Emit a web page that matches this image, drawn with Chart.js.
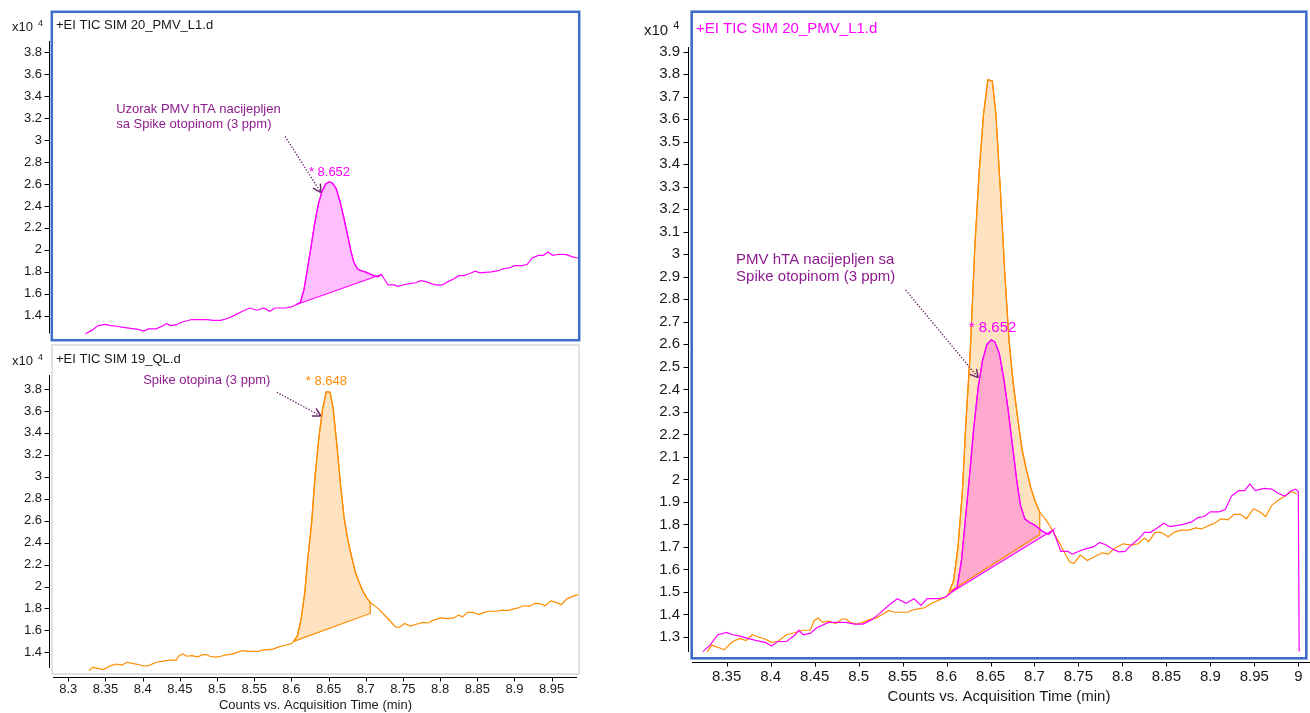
<!DOCTYPE html>
<html>
<head>
<meta charset="utf-8">
<title>TIC SIM 20_PMV_L1 / 19_QL</title>
<script src="https://cdn.jsdelivr.net/npm/chart.js@4.4.1/dist/chart.umd.min.js"></script>
<style>
  html, body { margin: 0; padding: 0; background: #fff; overflow: hidden; }
  canvas { position: absolute; }
  #topLeft { left: 0; top: 0; width: 590px; height: 343px; }
  #bottomLeft { left: 0; top: 343px; width: 590px; height: 370px; }
  #right { left: 640px; top: 0; width: 670px; height: 713px; }
</style>
</head>
<body>
<canvas id="topLeft" width="590" height="343"></canvas>
<canvas id="bottomLeft" width="590" height="370"></canvas>
<canvas id="right" width="670" height="713"></canvas>
<script>
'use strict';

const FONT = '"Liberation Sans", Arial, sans-serif';
const MAGENTA = '#ff00ff';
const ORANGE = '#ff8c00';
const PURPLE = '#8e1c8e';
const TEXT = '#1a1a1a';
const BLUE = '#3c6ec8';

// ---------- data (counts x10^4 vs. min) ----------
// 20_PMV_L1.d : PMV hTA sample spiked with 3 ppm
const pmvTime = [
  8.323, 8.331, 8.340, 8.350, 8.357, 8.365, 8.374, 8.384, 8.394, 8.401,
  8.408, 8.418, 8.428, 8.432, 8.437, 8.445, 8.452, 8.466, 8.476, 8.486,
  8.495, 8.505, 8.515, 8.524, 8.534, 8.544, 8.554, 8.563, 8.571, 8.578,
  8.592, 8.600, 8.606, 8.612, 8.617, 8.621, 8.626, 8.631, 8.636, 8.641,
  8.646, 8.651, 8.655, 8.660, 8.665, 8.670, 8.675, 8.680, 8.684, 8.689,
  8.694, 8.701, 8.709, 8.716, 8.721, 8.730, 8.738, 8.743, 8.750, 8.757,
  8.767, 8.774, 8.781, 8.789, 8.796, 8.803, 8.810, 8.818, 8.825, 8.832,
  8.840, 8.847, 8.854, 8.861, 8.869, 8.878, 8.886, 8.893, 8.900, 8.910,
  8.917, 8.924, 8.932, 8.939, 8.945, 8.951, 8.961, 8.970, 8.978, 8.985,
  8.992, 8.997, 9.000, 9.001,
];
const pmvCounts = [
  1.235, 1.264, 1.31, 1.32, 1.31, 1.304, 1.294, 1.284, 1.276, 1.26,
  1.28, 1.28, 1.31, 1.33, 1.31, 1.316, 1.34, 1.365, 1.365, 1.365,
  1.357, 1.357, 1.377, 1.405, 1.44, 1.47, 1.45, 1.47, 1.44, 1.47,
  1.47, 1.48, 1.50, 1.52, 1.64, 1.805, 2.01, 2.23, 2.41, 2.53,
  2.60, 2.62, 2.61, 2.56, 2.45, 2.31, 2.15, 1.99, 1.886, 1.825,
  1.81, 1.795, 1.77, 1.755, 1.775, 1.68, 1.68, 1.668, 1.68, 1.69,
  1.70, 1.72, 1.71, 1.69, 1.678, 1.68, 1.708, 1.734, 1.765, 1.765,
  1.785, 1.805, 1.79, 1.795, 1.80, 1.81, 1.83, 1.835, 1.856, 1.856,
  1.866, 1.926, 1.95, 1.95, 1.98, 1.95, 1.96, 1.957, 1.936, 1.926,
  1.95, 1.957, 1.946, 1.235,
];

// 19_QL.d : spike solution (3 ppm)
const qlTime = [
  8.328, 8.333, 8.343, 8.347, 8.357, 8.365, 8.372, 8.379, 8.386, 8.394,
  8.401, 8.408, 8.418, 8.428, 8.437, 8.445, 8.449, 8.454, 8.459, 8.466,
  8.474, 8.481, 8.486, 8.490, 8.498, 8.505, 8.512, 8.520, 8.527, 8.534,
  8.541, 8.549, 8.556, 8.561, 8.568, 8.575, 8.583, 8.592, 8.600, 8.603,
  8.608, 8.613, 8.618, 8.622, 8.627, 8.632, 8.637, 8.642, 8.647, 8.652,
  8.656, 8.661, 8.666, 8.671, 8.676, 8.681, 8.686, 8.691, 8.696, 8.701,
  8.706, 8.714, 8.718, 8.726, 8.733, 8.740, 8.745, 8.752, 8.760, 8.767,
  8.777, 8.784, 8.791, 8.801, 8.810, 8.818, 8.825, 8.830, 8.837, 8.844,
  8.852, 8.859, 8.866, 8.876, 8.883, 8.890, 8.898, 8.905, 8.912, 8.920,
  8.927, 8.934, 8.941, 8.949, 8.956, 8.963, 8.970, 8.978, 8.985, 8.992,
  8.998,
];
const qlCounts = [
  1.235, 1.264, 1.25, 1.243, 1.28, 1.294, 1.284, 1.31, 1.30, 1.29,
  1.276, 1.28, 1.31, 1.32, 1.33, 1.33, 1.37, 1.385, 1.365, 1.37,
  1.36, 1.38, 1.38, 1.365, 1.357, 1.365, 1.377, 1.385, 1.40, 1.417,
  1.41, 1.41, 1.41, 1.42, 1.425, 1.43, 1.45, 1.465, 1.48, 1.50,
  1.55, 1.70, 1.946, 2.25, 2.57, 3.02, 3.36, 3.62, 3.775, 3.77,
  3.63, 3.30, 2.93, 2.62, 2.42, 2.27, 2.13, 2.04, 1.96, 1.90,
  1.855, 1.815, 1.79, 1.734, 1.684, 1.633, 1.627, 1.664, 1.64, 1.654,
  1.674, 1.668, 1.694, 1.714, 1.708, 1.714, 1.74, 1.724, 1.765, 1.765,
  1.745, 1.765, 1.775, 1.775, 1.785, 1.78, 1.795, 1.805, 1.825, 1.82,
  1.845, 1.845, 1.825, 1.87, 1.856, 1.835, 1.886, 1.91, 1.926, 1.946,
  1.936,
];

// integrated peaks: [start time, end time, baseline at start, baseline at end]
const pmvPeak = [8.606, 8.721, 1.50, 1.775];
const qlPeak = [8.603, 8.706, 1.50, 1.755];

// axis ticks
const leftTimeTicks = [8.3, 8.35, 8.4, 8.45, 8.5, 8.55, 8.6, 8.65, 8.7, 8.75, 8.8, 8.85, 8.9, 8.95];
const rightTimeTicks = [8.35, 8.4, 8.45, 8.5, 8.55, 8.6, 8.65, 8.7, 8.75, 8.8, 8.85, 8.9, 8.95, 9];
const leftCountTicks = [1.4, 1.6, 1.8, 2, 2.2, 2.4, 2.6, 2.8, 3, 3.2, 3.4, 3.6, 3.8];
const rightCountTicks = [1.3, 1.4, 1.5, 1.6, 1.7, 1.8, 1.9, 2, 2.1, 2.2, 2.3, 2.4, 2.5, 2.6,
  2.7, 2.8, 2.9, 3, 3.1, 3.2, 3.3, 3.4, 3.5, 3.6, 3.7, 3.8, 3.9];

// ---------- helpers ----------
function series(times, counts) {
  return times.map((t, i) => ({ x: t, y: counts[i] }));
}
// closed outline: the trace between start and end, then back along the baseline
function peakShape(times, counts, peak) {
  const [t0, t1, b0, b1] = peak;
  const pts = series(times, counts).filter((p) => p.x >= t0 && p.x <= t1);
  pts.push({ x: t1, y: b1 }, { x: t0, y: b0 });
  return pts;
}
function fmt(v) { return String(Number(v.toFixed(2))); }
function noPad(s) { s.paddingLeft = s.paddingRight = s.paddingTop = s.paddingBottom = 0; }

function traceSet(data, color) {
  return { data, borderColor: color, borderWidth: 1.2, pointRadius: 0, fill: false, tension: 0 };
}
function peakSet(data, color, fillColor) {
  return { data, borderColor: color, borderWidth: 1.2, pointRadius: 0, fill: 'shape', backgroundColor: fillColor, tension: 0 };
}

// ---------- frame, axis lines, headers and notes ----------
const chromFrame = {
  id: 'chromFrame',
  afterDraw(chart, args, o) {
    const { ctx, chartArea: a } = chart;
    const x = chart.scales.x;
    const y = chart.scales.y;
    ctx.save();

    const f = o.frameInset;
    ctx.strokeStyle = o.frameColor;
    ctx.lineWidth = o.frameWidth;
    ctx.strokeRect(a.left - f, a.top - f, a.right - a.left + 2 * f, a.bottom - a.top + 2 * f);

    ctx.strokeStyle = '#000';
    ctx.lineWidth = 1;
    ctx.beginPath();
    const ax = o.yAxis[0];
    ctx.moveTo(ax, o.yAxis[1]);
    ctx.lineTo(ax, o.yAxis[2]);
    for (const t of y.ticks) {
      const py = Math.round(y.getPixelForValue(t.value)) + 0.5;
      ctx.moveTo(ax - 5, py);
      ctx.lineTo(ax, py);
    }
    if (o.xAxis) {
      const ay = o.xAxis[0];
      ctx.moveTo(o.xAxis[1], ay);
      ctx.lineTo(o.xAxis[2], ay);
      for (const t of x.ticks) {
        const px = Math.round(x.getPixelForValue(t.value)) + 0.5;
        ctx.moveTo(px, ay);
        ctx.lineTo(px, ay + 4);
      }
    }
    ctx.stroke();

    ctx.textBaseline = 'middle';
    ctx.textAlign = 'left';
    // "x10 4" exponent
    const e = o.exp;
    ctx.fillStyle = TEXT;
    ctx.font = `${e.size}px ${FONT}`;
    ctx.fillText('x10', e.x, e.y);
    const w = ctx.measureText('x10').width;
    ctx.font = `${Math.round(e.size * 0.72)}px ${FONT}`;
    ctx.fillText('4', e.x + w + 5, e.y - e.size * 0.32);
    // trace name
    const h = o.title;
    ctx.fillStyle = h.color;
    ctx.font = `${h.size}px ${FONT}`;
    ctx.fillText(h.text, h.x, h.y);

    // notes placed in data coordinates
    for (const n of o.notes) {
      ctx.fillStyle = n.color;
      ctx.font = `${n.size}px ${FONT}`;
      const px = x.getPixelForValue(n.at[0]);
      const py = y.getPixelForValue(n.at[1]);
      n.lines.forEach((line, i) => ctx.fillText(line, px, py + i * (n.step || 0)));
    }
    for (const ar of o.arrows) {
      const x0 = x.getPixelForValue(ar.from[0]);
      const y0 = y.getPixelForValue(ar.from[1]);
      const x1 = x.getPixelForValue(ar.to[0]);
      const y1 = y.getPixelForValue(ar.to[1]);
      ctx.strokeStyle = '#6a276a';
      ctx.lineWidth = 1.4;
      ctx.setLineDash([1.3, 1.7]);
      ctx.beginPath();
      ctx.moveTo(x0, y0);
      ctx.lineTo(x1, y1);
      ctx.stroke();
      ctx.setLineDash([]);
      const ang = Math.atan2(y1 - y0, x1 - x0);
      ctx.beginPath();
      for (const d of [-0.5, 0.5]) {
        ctx.moveTo(x1, y1);
        ctx.lineTo(x1 - 9 * Math.cos(ang + d), y1 - 9 * Math.sin(ang + d));
      }
      ctx.stroke();
    }
    ctx.restore();
  },
};

function makeChart(id, p) {
  return new Chart(document.getElementById(id), {
    type: 'line',
    data: { datasets: p.datasets },
    plugins: [chromFrame],
    options: {
      responsive: false,
      animation: false,
      devicePixelRatio: 1,
      layout: { padding: p.padding },
      scales: {
        x: {
          type: 'linear',
          display: p.showX,
          min: p.xRange[0],
          max: p.xRange[1],
          afterBuildTicks: (s) => { s.ticks = p.xTicks.map((v) => ({ value: v })); },
          afterFit: (s) => { s.height = p.xHeight; noPad(s); },
          grid: { display: false, drawTicks: false },
          border: { display: false },
          ticks: {
            autoSkip: false, maxRotation: 0, minRotation: 0, padding: p.xTickPad,
            color: TEXT, font: { family: FONT, size: p.fontSize }, callback: (v) => fmt(v),
          },
          title: {
            display: true, text: 'Counts vs. Acquisition Time (min)', padding: 0,
            color: TEXT, font: { family: FONT, size: p.fontSize },
          },
        },
        y: {
          type: 'linear',
          min: p.yRange[0],
          max: p.yRange[1],
          afterBuildTicks: (s) => { s.ticks = p.yTicks.map((v) => ({ value: v })); },
          afterFit: (s) => { s.width = 53; noPad(s); },
          grid: { display: false, drawTicks: false },
          border: { display: false },
          ticks: {
            autoSkip: false, padding: p.yTickPad,
            color: TEXT, font: { family: FONT, size: p.fontSize }, callback: (v) => fmt(v),
          },
        },
      },
      plugins: {
        legend: { display: false },
        tooltip: { enabled: false },
        filler: { drawTime: 'beforeDatasetsDraw' },
        chromFrame: p.frame,
      },
    },
  });
}

const pmvData = series(pmvTime, pmvCounts);
const qlData = series(qlTime, qlCounts);
const pmvFill = 'rgba(255, 0, 255, 0.25)';
const qlFill = 'rgba(255, 140, 0, 0.25)';

// ---------- top left: 20_PMV_L1.d ----------
makeChart('topLeft', {
  datasets: [traceSet(pmvData, MAGENTA), peakSet(peakShape(pmvTime, pmvCounts, pmvPeak), MAGENTA, pmvFill)],
  padding: { left: 0, right: 12, top: 13, bottom: 4 },
  showX: false, xHeight: 0, xTickPad: 9,
  xRange: [8.2794, 8.9854], yRange: [1.1877, 4.158],
  xTicks: leftTimeTicks, yTicks: leftCountTicks,
  fontSize: 13, yTickPad: 11,
  frame: {
    frameColor: BLUE, frameWidth: 2.5, frameInset: 1.2,
    yAxis: [49.5, 41, 333.5],
    exp: { x: 12, y: 27.3, size: 13 },
    title: { text: '+EI TIC SIM 20_PMV_L1.d', x: 56, y: 25.7, size: 13, color: TEXT },
    notes: [
      { lines: ['Uzorak PMV hTA nacijepljen', 'sa Spike otopinom (3 ppm)'], at: [8.3643, 3.277], step: 15, color: PURPLE, size: 13 },
      { lines: ['* 8.652'], at: [8.6235, 2.705], color: MAGENTA, size: 13 },
    ],
    arrows: [{ from: [8.5915, 3.033], to: [8.6397, 2.522] }],
  },
});

// ---------- bottom left: 19_QL.d ----------
makeChart('bottomLeft', {
  datasets: [traceSet(qlData, ORANGE), peakSet(peakShape(qlTime, qlCounts, qlPeak), ORANGE, qlFill)],
  padding: { left: 0, right: 12, top: 3, bottom: 0 },
  showX: true, xHeight: 40, xTickPad: 9,
  xRange: [8.2794, 8.9854], yRange: [1.2123, 4.1918],
  xTicks: leftTimeTicks, yTicks: leftCountTicks,
  fontSize: 13, yTickPad: 11,
  frame: {
    frameColor: '#e1e1e1', frameWidth: 2, frameInset: 1,
    yAxis: [49.5, 32, 325],
    xAxis: [334.5, 53, 577],
    exp: { x: 12, y: 18.7, size: 13 },
    title: { text: '+EI TIC SIM 19_QL.d', x: 56, y: 16.3, size: 13, color: TEXT },
    notes: [
      { lines: ['Spike otopina (3 ppm)'], at: [8.4006, 3.876], color: PURPLE, size: 13 },
      { lines: ['* 8.648'], at: [8.6194, 3.873], color: ORANGE, size: 13 },
    ],
    arrows: [{ from: [8.5804, 3.77], to: [8.6397, 3.554] }],
  },
});

// ---------- right: overlay of both traces ----------
makeChart('right', {
  datasets: [
    traceSet(pmvData, MAGENTA),
    traceSet(qlData, ORANGE),
    peakSet(peakShape(pmvTime, pmvCounts, pmvPeak), MAGENTA, pmvFill),
    peakSet(peakShape(qlTime, qlCounts, qlPeak), ORANGE, qlFill),
  ],
  padding: { left: 0, right: 5, top: 13, bottom: 7 },
  showX: true, xHeight: 49, xTickPad: 11,
  xRange: [8.31168, 9.00762], yRange: [1.2111, 4.072],
  xTicks: rightTimeTicks, yTicks: rightCountTicks,
  fontSize: 15, yTickPad: 13,
  frame: {
    frameColor: BLUE, frameWidth: 2.6, frameInset: 1.3,
    yAxis: [48.5, 47, 652],
    xAxis: [662.5, 52, 670],
    exp: { x: 4, y: 30.7, size: 15 },
    title: { text: '+EI TIC SIM 20_PMV_L1.d', x: 56, y: 29.3, size: 15, color: MAGENTA },
    notes: [
      { lines: ['PMV hTA nacijepljen sa', 'Spike otopinom (3 ppm)'], at: [8.3607, 2.977], step: 17, color: PURPLE, size: 15 },
      { lines: ['* 8.652'], at: [8.6253, 2.674], color: MAGENTA, size: 15 },
    ],
    arrows: [{ from: [8.5536, 2.841], to: [8.636, 2.452] }],
  },
});
</script>
</body>
</html>
